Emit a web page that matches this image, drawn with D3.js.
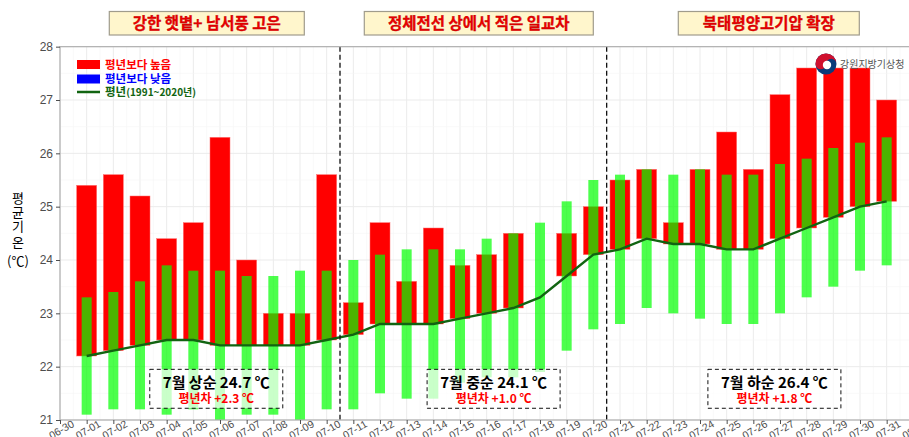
<!DOCTYPE html>
<html><head><meta charset="utf-8">
<script src="https://cdn.jsdelivr.net/npm/d3@7"></script>
<style>
html,body{margin:0;padding:0;background:#fff;}
svg{display:block;font-family:"Noto Sans CJK KR","Noto Sans",sans-serif;}
</style></head>
<body>
<svg id="chart" width="909" height="437"></svg>
<script>
// ---- data ----
const tickLabels = ["06-30","07-01","07-02","07-03","07-04","07-05","07-06","07-07","07-08","07-09","07-10",
  "07-11","07-12","07-13","07-14","07-15","07-16","07-17","07-18","07-19","07-20",
  "07-21","07-22","07-23","07-24","07-25","07-26","07-27","07-28","07-29","07-30","07-31","08-01"];
const days = tickLabels.slice(1, 32);
const observed = [25.4,25.6,25.2,24.4,24.7,26.3,24.0,23.0,23.0,25.6,
  23.2,24.7,23.6,24.6,23.9,24.1,24.5,23.3,24.5,25.0,
  25.5,25.7,24.7,25.7,26.4,25.7,27.1,27.6,27.6,27.6,27.0];
const normal = [22.2,22.3,22.4,22.5,22.5,22.4,22.4,22.4,22.4,22.5,
  22.6,22.8,22.8,22.8,22.9,23.0,23.1,23.3,23.7,24.1,
  24.2,24.4,24.3,24.3,24.2,24.2,24.4,24.6,24.8,25.0,25.1];
const rangeHigh = [23.3,23.4,23.6,23.9,23.8,23.8,23.7,23.7,23.8,23.8,
  24.0,24.1,24.2,24.2,24.2,24.4,24.5,24.7,25.1,25.5,
  25.6,25.7,25.6,25.7,25.6,25.6,25.8,25.9,26.1,26.2,26.3];
const rangeLow = [21.1,21.2,21.2,21.1,21.2,20.9,21.1,21.1,20.9,21.2,
  21.2,21.5,21.4,21.4,21.7,21.8,21.8,21.9,22.3,22.7,
  22.8,23.1,23.0,22.9,22.8,22.8,23.0,23.3,23.5,23.8,23.9];
const yTicks = [21,22,23,24,25,26,27,28];
const headerTitles = ["강한 햇볕+ 남서풍 고은","정체전선 상에서 적은 일교차","북태평양고기압 확장"];
const periodNames = ["7월 상순 24.7 ℃","7월 중순 24.1 ℃","7월 하순 26.4 ℃"];
const periodDiffs = ["평년차 +2.3 ℃","평년차 +1.0 ℃","평년차 +1.8 ℃"];
const periodDividers = [10.5, 20.5];          // day index positions
const periodCenters = [5.86, 16.26, 26.79];   // day index of summary box centres
const legendLabels = ["평년보다 높음","평년보다 낮음","평년"];
const yTitleChars = ["평","균","기","온","(℃)"];

// ---- layout ----
const svg = d3.select("#chart");
const L = 60, R = 913.33, T = 46.67, B = 420;
const x = d3.scaleLinear().domain([0, 32]).range([L, R]);
const y = d3.scaleLinear().domain([21, 28]).range([B, T]);
const dayW = x(1) - x(0);

svg.append("defs").append("clipPath").attr("id","plotclip")
  .append("rect").attr("x", L).attr("y", T).attr("width", R - L).attr("height", B - T);

// grid
const grid = svg.append("g");
d3.range(0, 32.01, 0.5).forEach(v => {
  grid.append("line").attr("x1", x(v)).attr("x2", x(v)).attr("y1", T).attr("y2", B)
    .attr("stroke", v % 1 === 0 ? "#EBEBEB" : "#F5F5F5").attr("stroke-width", v % 1 === 0 ? 1 : 0.6);
});
d3.range(21, 28.01, 0.5).forEach(v => {
  grid.append("line").attr("x1", L).attr("x2", R).attr("y1", y(v)).attr("y2", y(v))
    .attr("stroke", v % 1 === 0 ? "#EBEBEB" : "#F5F5F5").attr("stroke-width", v % 1 === 0 ? 1 : 0.6);
});

const plot = svg.append("g").attr("clip-path", "url(#plotclip)");

// observed vs normal bars
plot.selectAll("rect.obs").data(days).join("rect").attr("class","obs")
  .attr("x", (d,i) => x(i+1) - dayW*0.375)
  .attr("width", dayW*0.75)
  .attr("y", (d,i) => y(Math.max(observed[i], normal[i])))
  .attr("height", (d,i) => Math.abs(y(observed[i]) - y(normal[i])))
  .attr("fill", (d,i) => observed[i] >= normal[i] ? "#FF0000" : "#0000FF")
  .attr("stroke", "#FF7070").attr("stroke-width", 0.5);

// normal range bars
plot.selectAll("rect.rng").data(days).join("rect").attr("class","rng")
  .attr("x", (d,i) => x(i+1) - dayW*0.1875)
  .attr("width", dayW*0.375)
  .attr("y", (d,i) => y(rangeHigh[i]))
  .attr("height", (d,i) => y(rangeLow[i]) - y(rangeHigh[i]))
  .attr("fill", "#00FF00").attr("fill-opacity", 0.7);

// normal line
plot.append("path").datum(normal)
  .attr("d", d3.line().x((d,i) => x(i+1)).y(d => y(d)))
  .attr("fill","none").attr("stroke","#116411").attr("stroke-width",2.4);

// dividers
periodDividers.forEach(v => {
  svg.append("line").attr("x1", x(v)).attr("x2", x(v)).attr("y1", T).attr("y2", B)
    .attr("stroke","#111").attr("stroke-width",1.3).attr("stroke-dasharray","5,3");
});

// summary boxes
periodCenters.forEach((c, k) => {
  const g = svg.append("g");
  const bw = 133;
  const bx = x(c) - bw/2;
  g.append("rect").attr("x", bx).attr("y", y(21.95)).attr("width", bw).attr("height", y(21.22) - y(21.95))
    .attr("fill","#fff").attr("fill-opacity",0.7)
    .attr("stroke","#111").attr("stroke-width",1).attr("stroke-dasharray","4,3");
  g.append("text").attr("x", x(c)).attr("y", 387.5).attr("text-anchor","middle")
    .attr("font-size","15px").attr("font-weight","bold").attr("fill","#000").text(periodNames[k]);
  g.append("text").attr("x", x(c)).attr("y", 402.5).attr("text-anchor","middle")
    .attr("font-size","12px").attr("font-weight","bold").attr("fill","#FF0000").text(periodDiffs[k]);
});

// panel border
svg.append("rect").attr("x", L).attr("y", T).attr("width", R - L).attr("height", B - T)
  .attr("fill","none").attr("stroke","#B0B0B0").attr("stroke-width",1.2);

// axes
const yAxis = svg.append("g").attr("transform", `translate(${L},0)`)
  .call(d3.axisLeft(y).tickValues(yTicks).tickFormat(d3.format("d")).tickSize(4).tickPadding(3));
yAxis.select(".domain").remove();
yAxis.selectAll("line").attr("stroke","#4d4d4d");
yAxis.selectAll("text").attr("fill","#4d4d4d").attr("font-size","12px")
  .attr("font-family","'Liberation Sans',Arial,sans-serif");

const xAxis = svg.append("g").attr("transform", `translate(0,${B})`)
  .call(d3.axisBottom(x).tickValues(d3.range(0,33)).tickFormat(i => tickLabels[i]).tickSize(4).tickPadding(0));
xAxis.select(".domain").remove();
xAxis.selectAll("line").attr("stroke","#4d4d4d");
xAxis.selectAll("text")
  .attr("y", 0)
  .attr("text-anchor","middle")
  .attr("transform", "translate(1,9.5) rotate(-30)")
  .attr("dy","0.35em")
  .attr("fill","#4d4d4d").attr("font-size","10.5px")
  .attr("font-family","'Liberation Sans',Arial,sans-serif");

// y title
yTitleChars.forEach((ch, k) => {
  svg.append("text").attr("x", 18).attr("y", [203,217,231,247,266][k]).attr("text-anchor","middle")
    .attr("font-size","13px").attr("fill","#000").text(ch);
});

// header boxes
const headerBoxes = [[109.3,304.3],[364.3,593.3],[678.3,859.3]];
headerBoxes.forEach((b,k) => {
  svg.append("rect").attr("x", b[0]).attr("y", 11.5).attr("width", b[1]-b[0]).attr("height", 23.5)
    .attr("fill","#FFF6CC").attr("stroke","#A09C8C").attr("stroke-width",1.2);
  svg.append("text").attr("x", (b[0]+b[1])/2).attr("y", 29).attr("text-anchor","middle")
    .attr("font-size","15.5px").attr("font-weight","bold").attr("fill","#EE0000")
    .attr("stroke","#B00000").attr("stroke-width",0.3).text(headerTitles[k]);
});

// legend
const lg = svg.append("g");
lg.append("rect").attr("x",77).attr("y",60).attr("width",23).attr("height",9).attr("fill","#FF0000");
lg.append("text").attr("x",105).attr("y",68.5).attr("font-size","11.5px").attr("font-weight","bold")
  .attr("fill","#FF0000").text(legendLabels[0]);
lg.append("rect").attr("x",77).attr("y",74.5).attr("width",23).attr("height",9).attr("fill","#0000FF");
lg.append("text").attr("x",105).attr("y",83).attr("font-size","11.5px").attr("font-weight","bold")
  .attr("fill","#0000FF").text(legendLabels[1]);
lg.append("line").attr("x1",77).attr("x2",100).attr("y1",92).attr("y2",92)
  .attr("stroke","#116411").attr("stroke-width",2.5);
const lt = lg.append("text").attr("x",105).attr("y",96).attr("font-weight","bold").attr("fill","#116411");
lt.append("tspan").attr("font-size","11.5px").text(legendLabels[2]);
lt.append("tspan").attr("font-size","10px").text("(1991~2020년)");

// logo
const lx = 826, ly = 64, lr = 10.5;
const logo = svg.append("g");
logo.append("circle").attr("cx",lx).attr("cy",ly).attr("r",lr).attr("fill","#0B3B7A");
logo.append("path").attr("fill","#D0102E")
  .attr("d", `M${lx-lr},${ly} A${lr},${lr} 0 0 1 ${lx+lr},${ly} A${lr/2},${lr/2} 0 0 0 ${lx},${ly} A${lr/2},${lr/2} 0 0 1 ${lx-lr},${ly} Z`);
logo.append("circle").attr("cx",lx+1).attr("cy",ly+1).attr("r",4.2).attr("fill","#fff");
svg.append("text").attr("x",840).attr("y",68).attr("font-size","10px").attr("fill","#555")
  .text("강원지방기상청");
</script>
</body></html>
